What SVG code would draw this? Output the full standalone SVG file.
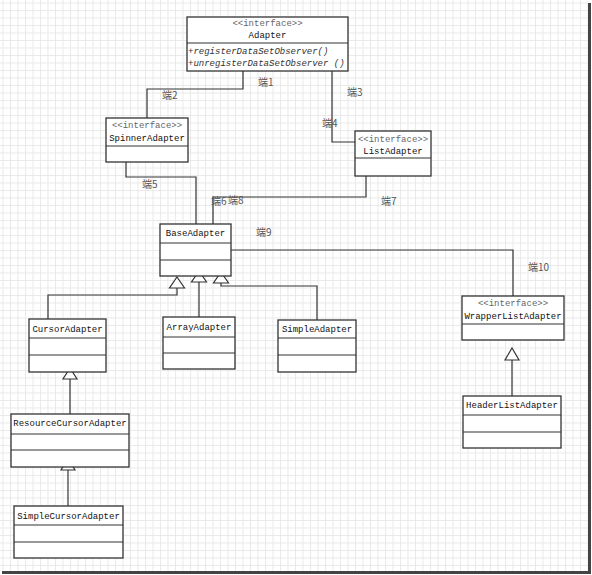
<svg xmlns="http://www.w3.org/2000/svg" width="592" height="575" viewBox="0 0 592 575">
<defs>
<pattern id="grid" x="2.5" y="2.5" width="7.5" height="7.5" patternUnits="userSpaceOnUse">
<path d="M0 0.5H7.5M0.5 0V7.5" fill="none" stroke="#e9e9e9" stroke-width="1"/>
</pattern>
<style>
.box{fill:#fff;stroke:#333;stroke-width:1.3}
.div{stroke:#333;stroke-width:1.2}
.c{fill:none;stroke:#333;stroke-width:1.2}
.tri{fill:#fff;stroke:#333;stroke-width:1.2}
.n{font-family:"Liberation Mono",monospace;font-size:9px;fill:#111;text-anchor:middle}
.st{font-family:"Liberation Mono",monospace;font-size:9px;fill:#666;text-anchor:middle}
.m{font-family:"Liberation Mono",monospace;font-size:9px;font-style:italic;fill:#333}
.lbl{font-family:"Noto Sans CJK SC","Liberation Sans",sans-serif;font-size:10px;fill:#555}
</style>
</defs>
<rect x="0" y="0" width="592" height="575" fill="#fff"/>
<rect x="0" y="0" width="588" height="571" fill="url(#grid)"/>
<rect x="588" y="3" width="3" height="571" fill="#444"/>
<rect x="2" y="571" width="589" height="3" fill="#444"/>

<g id="connectors">
<path class="c" d="M243 71V89H147V118"/>
<path class="c" d="M332 71V142H355"/>
<path class="c" d="M126 162V177H196V224"/>
<path class="c" d="M366 176V197H213V224"/>
<path class="c" d="M231 250H513V296"/>
<path class="c" d="M177 288V295H48V319"/>
<path class="c" d="M199 282V317"/>
<path class="c" d="M221 283V286H317V320"/>
<path class="c" d="M70 379V414"/>
<path class="c" d="M68 470V506"/>
<path class="c" d="M512 360V396"/>
<polygon class="tri" points="177,277 184.5,288 169.5,288"/>
<polygon class="tri" points="199,271 206.5,282 191.5,282"/>
<polygon class="tri" points="221,272 228.5,283 213.5,283"/>
<polygon class="tri" points="70,368 77,379 63,379"/>
<polygon class="tri" points="68,459 75,470 61,470"/>
<polygon class="tri" points="512,348 519,360 505,360"/>
<text class="lbl" x="258" y="86">端1</text>
<text class="lbl" x="162" y="99">端2</text>
<text class="lbl" x="347" y="96">端3</text>
<text class="lbl" x="322" y="127">端4</text>
<text class="lbl" x="142" y="188">端5</text>
<text class="lbl" x="211" y="205">端6</text>
<text class="lbl" x="381" y="205">端7</text>
<text class="lbl" x="228" y="204">端8</text>
<text class="lbl" x="256" y="236">端9</text>
<text class="lbl" x="528" y="271">端10</text>
</g>

<g id="Adapter">
<rect class="box" x="187" y="17" width="161" height="54"/>
<line class="div" x1="187" y1="43" x2="348" y2="43"/>
<text class="st" x="267.5" y="26">&lt;&lt;interface&gt;&gt;</text>
<text class="n" x="267.5" y="38">Adapter</text>
<text class="m" x="188" y="54">+registerDataSetObserver()</text>
<text class="m" x="188" y="66">+unregisterDataSetObserver ()</text>
</g>

<g id="SpinnerAdapter">
<rect class="box" x="106" y="118" width="82" height="44"/>
<line class="div" x1="106" y1="146" x2="188" y2="146"/>
<text class="st" x="147" y="128">&lt;&lt;interface&gt;&gt;</text>
<text class="n" x="147" y="141">SpinnerAdapter</text>
</g>

<g id="ListAdapter">
<rect class="box" x="355" y="131" width="76" height="45"/>
<line class="div" x1="355" y1="158" x2="431" y2="158"/>
<text class="st" x="393" y="142">&lt;&lt;interface&gt;&gt;</text>
<text class="n" x="393" y="154">ListAdapter</text>
</g>

<g id="BaseAdapter">
<rect class="box" x="160" y="224" width="71" height="52"/>
<line class="div" x1="160" y1="243" x2="231" y2="243"/>
<line class="div" x1="160" y1="260" x2="231" y2="260"/>
<text class="n" x="195.5" y="236">BaseAdapter</text>
</g>

<g id="CursorAdapter">
<rect class="box" x="29" y="319" width="77" height="53"/>
<line class="div" x1="29" y1="338" x2="106" y2="338"/>
<line class="div" x1="29" y1="355" x2="106" y2="355"/>
<text class="n" x="67.5" y="332">CursorAdapter</text>
</g>

<g id="ArrayAdapter">
<rect class="box" x="163" y="317" width="72" height="52"/>
<line class="div" x1="163" y1="337" x2="235" y2="337"/>
<line class="div" x1="163" y1="353" x2="235" y2="353"/>
<text class="n" x="199" y="330">ArrayAdapter</text>
</g>

<g id="SimpleAdapter">
<rect class="box" x="278" y="320" width="78" height="52"/>
<line class="div" x1="278" y1="338" x2="356" y2="338"/>
<line class="div" x1="278" y1="355" x2="356" y2="355"/>
<text class="n" x="317" y="332">SimpleAdapter</text>
</g>

<g id="ResourceCursorAdapter">
<rect class="box" x="11" y="414" width="118" height="53"/>
<line class="div" x1="11" y1="434" x2="129" y2="434"/>
<line class="div" x1="11" y1="450" x2="129" y2="450"/>
<text class="n" x="70" y="426">ResourceCursorAdapter</text>
</g>

<g id="SimpleCursorAdapter">
<rect class="box" x="14" y="506" width="109" height="52"/>
<line class="div" x1="14" y1="525" x2="123" y2="525"/>
<line class="div" x1="14" y1="542" x2="123" y2="542"/>
<text class="n" x="68.5" y="519">SimpleCursorAdapter</text>
</g>

<g id="WrapperListAdapter">
<rect class="box" x="462" y="296" width="102" height="44"/>
<line class="div" x1="462" y1="324" x2="564" y2="324"/>
<text class="st" x="513" y="306">&lt;&lt;interface&gt;&gt;</text>
<text class="n" x="513" y="319">WrapperListAdapter</text>
</g>

<g id="HeaderListAdapter">
<rect class="box" x="463" y="396" width="98" height="52"/>
<line class="div" x1="463" y1="415" x2="561" y2="415"/>
<line class="div" x1="463" y1="432" x2="561" y2="432"/>
<text class="n" x="512" y="408">HeaderListAdapter</text>
</g>
</svg>
